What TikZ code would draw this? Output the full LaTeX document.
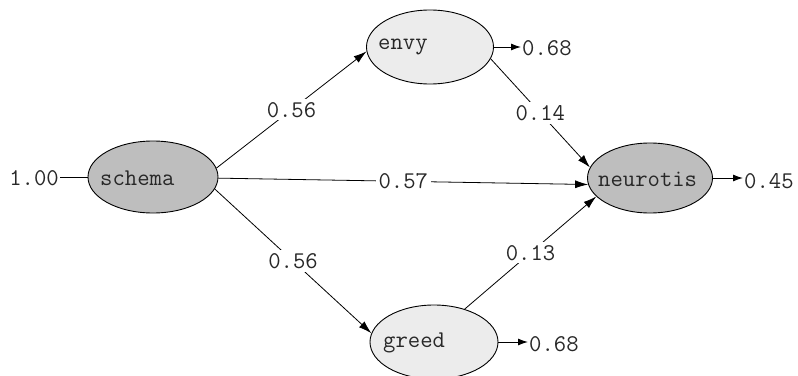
\documentclass[tikz,border=0pt]{standalone}
\usetikzlibrary{shapes.geometric,arrows.meta}
\definecolor{darkfill}{RGB}{190,190,190}
\definecolor{lightfill}{RGB}{236,236,236}
\definecolor{txt}{RGB}{40,40,40}
\tikzset{
  lat/.style={ellipse,draw=black,line width=0.9pt,inner sep=0pt},
  darkvar/.style={lat,fill=darkfill},
  lightvar/.style={lat,fill=lightfill},
  vartext/.style={anchor=west,inner sep=0pt,font=\ttfamily\fontsize{24}{28}\selectfont,text=txt},
  path/.style={draw=black,line width=0.8pt,-{Latex[length=13pt,width=8pt]}},
  errpath/.style={draw=black,line width=1pt,-{Latex[length=10pt,width=7pt]}},
  coef/.style={fill=white,inner sep=3pt,font=\ttfamily\fontsize{24}{28}\selectfont,text=txt},
  errlab/.style={inner sep=1pt,font=\ttfamily\fontsize{24}{28}\selectfont,text=txt}
}
\begin{document}
\begin{tikzpicture}[x=1pt,y=-1pt]
\useasboundingbox (0,0) rectangle (798,375);
\node[darkvar,minimum width=130pt,minimum height=72pt] (schema) at (153,177) {};
\node[lightvar,minimum width=127pt,minimum height=74pt] (envy) at (430,47) {};
\node[lightvar,minimum width=128pt,minimum height=74pt] (greed) at (434,342) {};
\node[darkvar,minimum width=125pt,minimum height=70pt] (neurotis) at (650,178) {};

\node[vartext] (schematxt) at (100,178) {schema};
\node[vartext] (envytxt) at (378,47) {envy};
\node[vartext] (greedtxt) at (383,343) {greed};
\node[vartext] (neurotistxt) at (598,179) {neurotis};

% error labels
\node[errlab,anchor=east] (schemaerr) at (60,178) {1.00};
\node[errlab,anchor=west] (envyerr) at (521,48) {0.68};
\node[errlab,anchor=west] (greederr) at (528,344) {0.68};
\node[errlab,anchor=west] (neuroerr) at (743,181) {0.45};

\draw[line width=0.9pt] (schemaerr.east |- schema.west) -- (schema.west);
\draw[errpath] (envy.east) -- (envyerr.west |- envy.east);
\draw[errpath] (greed.east) -- (greederr.west |- greed.east);
\draw[errpath] (neurotis.east) -- (neuroerr.west |- neurotis.east);

% structural paths
\draw[path] (schema.8) -- node[coef] {0.56} (envy.184);
\draw[path] (envy.-11) -- node[coef] {0.14} (neurotis.170);
\draw[path] (schema.-1) -- node[coef] {0.57} (neurotis.186);
\draw[path] (schema.-11) -- node[coef] {0.56} (greed.172);
\draw[path] (greed.47) -- node[coef] {0.13} (neurotis.199);
\end{tikzpicture}
\end{document}
